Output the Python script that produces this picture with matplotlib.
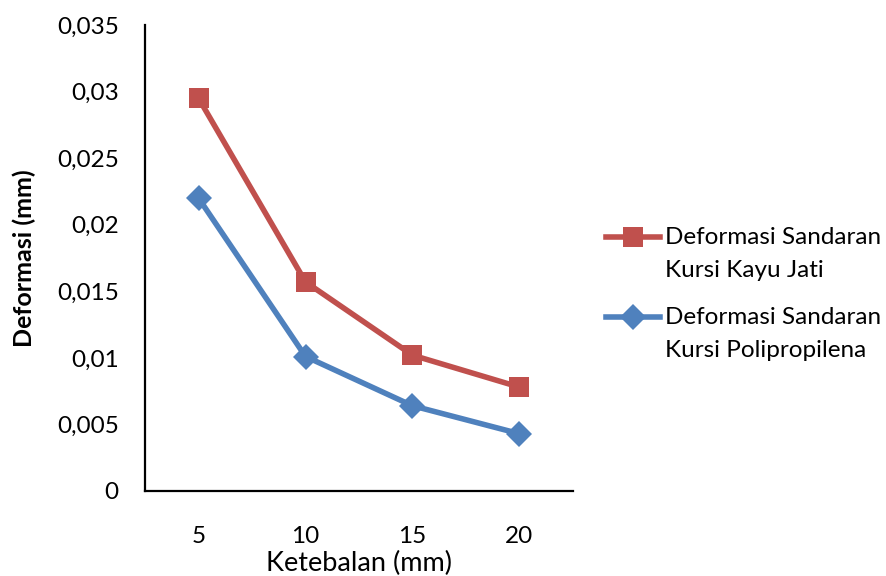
import numpy as np
import matplotlib.pyplot as plt
from matplotlib.lines import Line2D
from matplotlib.legend_handler import HandlerLine2D
from matplotlib.ticker import FuncFormatter

# Data deformasi sandaran kursi
ketebalan = ['5', '10', '15', '20']
deformasi_jati = [0.0295, 0.0157, 0.0102, 0.0078]
deformasi_pp = [0.0220, 0.0101, 0.0064, 0.0043]
label_jati = 'Deformasi Sandaran\nKursi Kayu Jati'
label_pp = 'Deformasi Sandaran\nKursi Polipropilena'

plt.rcParams['font.family'] = ['Lato', 'DejaVu Sans']


# Simbol legenda sejajar dengan baris pertama label
class HandlerBarisAtas(HandlerLine2D):
    def create_artists(self, legend, orig_handle, xdescent, ydescent,
                       width, height, fontsize, trans):
        artists = super().create_artists(legend, orig_handle, xdescent,
                                         ydescent, width, height,
                                         fontsize, trans)
        for a in artists:
            a.set_ydata(np.asarray(a.get_ydata()) + 0.7 * fontsize)
        return artists


fig = plt.figure(figsize=(8.86, 5.76), dpi=100)
ax = fig.add_axes([0.1637, 0.1476, 0.4830, 0.8090])

x = [i + 0.5 for i in range(len(ketebalan))]
ax.plot(x, deformasi_jati, color='#C0504D', lw=4, marker='s', ms=14.5,
        mew=0, label=label_jati)
ax.plot(x, deformasi_pp, color='#4F81BD', lw=4, marker='D', ms=13,
        mew=0, label=label_pp)

ax.set_xlim(0, len(ketebalan))
ax.set_ylim(0, 0.035)
ax.set_xticks(x)
ax.set_xticklabels(ketebalan)
ax.set_yticks([0.005 * i for i in range(8)])

def koma(v, pos):
    s = ('%.3f' % v).rstrip('0').rstrip('.')
    return s.replace('.', ',')

ax.yaxis.set_major_formatter(FuncFormatter(koma))
ax.tick_params(axis='both', length=0, labelsize=17.5)
ax.tick_params(axis='x', pad=25)
ax.tick_params(axis='y', pad=19)

for s in ['top', 'right']:
    ax.spines[s].set_visible(False)
for s in ['left', 'bottom']:
    ax.spines[s].set_linewidth(1.6)
    ax.spines[s].set_color('black')

ax.set_xlabel('Ketebalan (mm)', fontsize=19.5, labelpad=3)
ax.set_ylabel('Deformasi (mm)', fontsize=18, fontweight='bold', labelpad=15)

leg = ax.legend(loc='center left', bbox_to_anchor=(1.025, 0.423), frameon=False,
                fontsize=17.5, handlelength=2.25, handletextpad=0.2,
                labelspacing=1.05,
                handler_map={Line2D: HandlerBarisAtas()})
for t in leg.get_texts():
    t.set_linespacing(1.7)

fig.savefig('out.png', dpi=100)
